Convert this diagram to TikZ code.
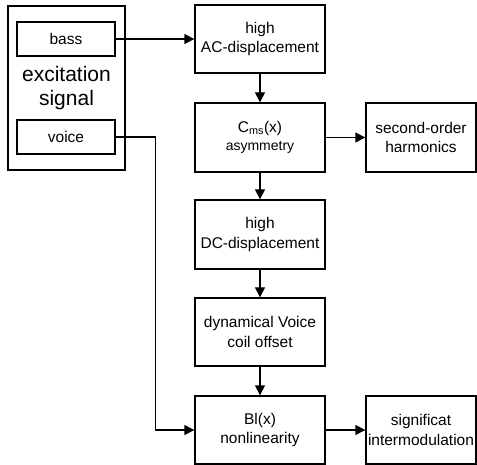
\documentclass[tikz,border=0pt]{standalone}
\usepackage{fontspec}
\setmainfont{Liberation Sans}
\usetikzlibrary{arrows.meta}
\begin{document}
\begin{tikzpicture}[x=1pt,y=-1pt,
  box/.style={draw,line width=1.4pt,inner sep=0pt,align=center,
    font=\fontsize{15.5}{19.5}\selectfont},
  arr/.style={line width=1.4pt,-{Triangle[length=10pt,width=10pt]}}]
\useasboundingbox (0,0) rectangle (477,465);
\node[box,minimum width=117pt,minimum height=164pt] (exc) at (66.5,88) {};
\node[align=center,font=\fontsize{21}{24}\selectfont] (exctext) at (66.5,88) {excitation\\signal};
\node[box,minimum width=98pt,minimum height=34pt] (bass) at (66,39) {bass};
\node[box,minimum width=98pt,minimum height=34pt] (voice) at (66,137) {voice};
\node[box,minimum width=130pt,minimum height=68pt] (ac) at (260,39) {high\\AC-displacement};
\node[box,minimum width=130pt,minimum height=69pt] (cms) at (260,137.5) {C\textsubscript{ms}(x)\\[-1pt]{\fontsize{14}{17}\selectfont asymmetry}};
\node[box,minimum width=110pt,minimum height=69pt] (har) at (421,137.5) {second-order\\harmonics};
\node[box,minimum width=130pt,minimum height=69pt] (dc) at (260,234.5) {high\\DC-displacement};
\node[box,minimum width=130pt,minimum height=68pt] (dyn) at (260,332) {dynamical Voice\\coil offset};
\node[box,minimum width=130pt,minimum height=68pt] (bl) at (260,430) {Bl(x)\\nonlinearity};
\node[box,minimum width=110pt,minimum height=68pt] (sig) at (421,430) {significat\\intermodulation};
\draw[arr] (bass.east) -- (ac.west);
\draw[arr] (ac) -- (cms);
\draw[arr] (cms) -- (har);
\draw[arr] (cms) -- (dc);
\draw[arr] (dc) -- (dyn);
\draw[arr] (dyn) -- (bl);
\draw[arr] (bl) -- (sig);
\draw[arr] (voice.east) -- ++(40,0) |- (bl.west);
\end{tikzpicture}
\end{document}
